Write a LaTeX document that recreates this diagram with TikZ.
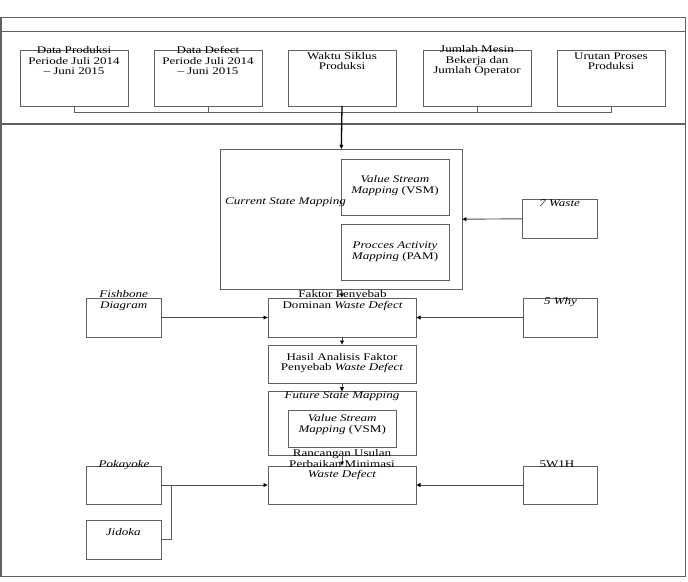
\documentclass[tikz,border=0pt]{standalone}
\usepackage{fontspec}
\setmainfont{Liberation Serif}
\usetikzlibrary{arrows.meta}
\begin{document}
\begin{tikzpicture}[x=1pt,y=-1pt,
  box/.style={draw=black!62,line width=0.9pt,inner sep=0pt,outer sep=0pt},
  txt/.style={inner sep=0pt,align=center,xscale=1.28,font=\fontsize{10.2}{10.5}\selectfont,text=black},
  conn/.style={draw=black!62,line width=0.9pt},
  arr/.style={draw=black!70,line width=0.9pt,-{Latex[length=4.5pt,width=4.5pt,color=black]}},
  frame/.style={draw=black!62,line width=1.1pt}]
\useasboundingbox (0,0) rectangle (688,581);
% outer frame
\draw[frame] (1,17.3) rectangle (685.5,576.7);
\draw[frame] (1,31.7) -- (685.5,31.7);
\draw[frame] (1,124) -- (685.5,124);
% top boxes
\node[box,minimum width=108pt,minimum height=56pt] (b1) at (74,78) {};
\node[box,minimum width=108pt,minimum height=56pt] (b2) at (208,78) {};
\node[box,minimum width=108pt,minimum height=56pt] (b3) at (342,78) {};
\node[box,minimum width=108pt,minimum height=56pt] (b4) at (477,78) {};
\node[box,minimum width=108pt,minimum height=56pt] (b5) at (611,78) {};
\node[txt] (t1) at (74,60.8) {Data Produksi\\Periode Juli 2014\\– Juni 2015};
\node[txt] (t2) at (208,60.8) {Data Defect\\Periode Juli 2014\\– Juni 2015};
\node[txt] (t3) at (342,61.2) {Waktu Siklus\\Produksi};
\node[txt] (t4) at (477,60.8) {Jumlah Mesin\\Bekerja dan\\Jumlah Operator};
\node[txt] (t5) at (611,61.2) {Urutan Proses\\Produksi};
\coordinate (jl) at (74,112.7);
\coordinate (jr) at (611,112.7);
\draw[conn] (b1.south) -- (jl) -- (jr) -- (b5.south);
\draw[conn] (b2.south) -- (b2.south |- jl);
\draw[conn] (b4.south) -- (b4.south |- jl);
% current state mapping
\node[box,minimum width=241.3pt,minimum height=139.7pt] (cs) at (341.3,219.2) {};
\node[box,minimum width=108pt,minimum height=56pt] (vsm1) at (395,187) {};
\node[box,minimum width=108pt,minimum height=56pt] (pam) at (395,252) {};
\node[txt] (tvsm1) at (395,185.3) {\itshape Value Stream\\\itshape Mapping \upshape(VSM)};
\node[txt] (tpam) at (395,251.8) {\itshape Procces Activity\\\itshape Mapping \upshape(PAM)};
\node[txt] (tcs) at (285.5,202.7) {\itshape Current State Mapping};
\draw[line width=1.3pt,-{Latex[length=4.5pt,width=4.5pt]}] (b3.south) -- (cs.north);
% 7 waste
\node[box,minimum width=74.5pt,minimum height=39pt] (w7) at (560,218.8) {};
\node[txt] (tw7) at (559.7,203.3) {\itshape 7 Waste};
\draw[arr] (w7.west) -- (cs.east);
% faktor penyebab row
\node[box,minimum width=148pt,minimum height=39pt] (fp) at (342,317.5) {};
\node[txt] (tfp) at (342.5,300.4) {Faktor Penyebab\\Dominan \itshape Waste Defect};
\node[box,minimum width=75pt,minimum height=39pt] (fb) at (123.5,317.5) {};
\node[txt] (tfb) at (123.7,300.4) {\itshape Fishbone\\\itshape Diagram};
\node[box,minimum width=74.2pt,minimum height=39pt] (why) at (560.7,317.5) {};
\node[txt] (twhy) at (560.5,301.7) {\itshape 5 Why};
\draw[arr] (cs.south) -- (fp.north);
\draw[arr] (fb.east) -- (fp.west);
\draw[arr] (why.west) -- (fp.east);
% hasil analisis
\node[box,minimum width=148pt,minimum height=38pt] (ha) at (342,364) {};
\node[txt] (tha) at (342,363) {Hasil Analisis Faktor\\Penyebab \itshape Waste Defect};
\draw[arr] (fp.south) -- (ha.north);
% future state
\node[box,minimum width=148pt,minimum height=63.3pt] (fs) at (342,423.3) {};
\node[txt] (tfs) at (342,396.7) {\itshape Future State Mapping};
\node[box,minimum width=107.6pt,minimum height=37.4pt] (vsm2) at (342.2,429) {};
\node[txt] (tvsm2) at (342.2,424.5) {\itshape Value Stream\\\itshape Mapping \upshape(VSM)};
\draw[arr] (ha.south) -- (fs.north);
% rancangan
\node[box,minimum width=148pt,minimum height=38pt] (ru) at (342,485) {};
\node[txt] (tru) at (342,465) {Rancangan Usulan\\Perbaikan Minimasi\\\itshape Waste Defect};
\draw[arr] (fs.south) -- (ru.north);
\node[box,minimum width=75pt,minimum height=38pt] (pk) at (123.5,485) {};
\node[txt] (tpk) at (124,464.7) {\itshape Pokayoke};
\node[box,minimum width=75pt,minimum height=38.3pt] (jd) at (123.5,539.8) {};
\node[txt] (tjd) at (123.3,532) {\itshape Jidoka};
\node[box,minimum width=74.2pt,minimum height=38pt] (wh) at (560.7,485) {};
\node[txt] (twh) at (557,464.7) {5W1H};
\draw[arr] (pk.east) -- (ru.west);
\coordinate (jk) at (171,539.8);
\draw[conn] (jd.east) -- (jk) -- (jk |- pk.east);
\draw[arr] (wh.west) -- (ru.east);
\end{tikzpicture}
\end{document}
